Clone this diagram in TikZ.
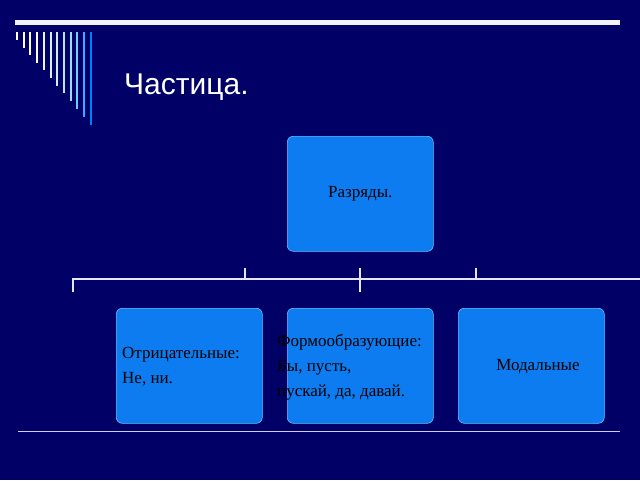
\documentclass[tikz,border=0pt]{standalone}
\usepackage{fontspec}
\setmainfont{Liberation Serif}
\newfontfamily\titlefont{Liberation Sans}
\begin{document}
\begin{tikzpicture}[x=1pt,y=-1pt,
  box/.style={draw=blue!40!cyan!60, line width=0.6pt, fill=boxc, rounded corners=6pt, minimum width=146pt, minimum height=115pt, anchor=north west},
  txt/.style={font=\fontsize{17}{25}\selectfont, text=black, align=left, inner sep=0pt},
  conn/.style={draw=white!90!blue, line width=2pt}]
\definecolor{bgc}{RGB}{0,0,102}
\definecolor{boxc}{RGB}{12,124,240}
\fill[bgc] (0,0) rectangle (640,480);
\useasboundingbox (0,0) rectangle (640,480);
\fill[white!95!blue] (15,19.5) rectangle (620,24.5);
\foreach \i/\l/\c in {0/40/white,1/48/white!95!yellow,2/55/white!95!yellow,3/63/white!93!yellow,4/70/white!90!cyan,5/78/white!85!cyan,6/86/cyan!20!white,7/93/cyan!30!white,8/101/cyan!40!white,9/109/blue!30!cyan!60!white,10/117/blue!40!cyan!80,11/125/blue!50!cyan}
  \draw[\c, line width=2pt] (17+6.7*\i,32) -- (17+6.7*\i,\l);
\node[anchor=base west, text=white, font=\titlefont\fontsize{30}{34}\selectfont, inner sep=0pt] (title) at (124,94) {Частица.};
\node[box] (top) at (287,136) {};
\node[txt] at (top.center) {Разряды.};
\node[box] (b1) at (116,308) {};
\node[box] (b2) at (287,308) {};
\node[box] (b3) at (458,308) {};
\coordinate (L) at (73,279);
\coordinate (R) at (640,279);
\draw[conn] (73,292) -- (L) -- (R);
\draw[conn] (245,268) -- (245,279);
\draw[conn] (360,268) -- (360,292);
\draw[conn] (476,268) -- (476,279);
\draw[white!80!blue, line width=1pt] (18,431) -- (620,431);
\node[txt, anchor=west] at (122,367) {Отрицательные:\\Не, ни.};
\node[txt, anchor=west] at (277,367) {Формообразующие:\\Бы, пусть,\\пускай, да, давай.};
\node[txt] at (538,367) {Модальные};
\end{tikzpicture}
\end{document}
